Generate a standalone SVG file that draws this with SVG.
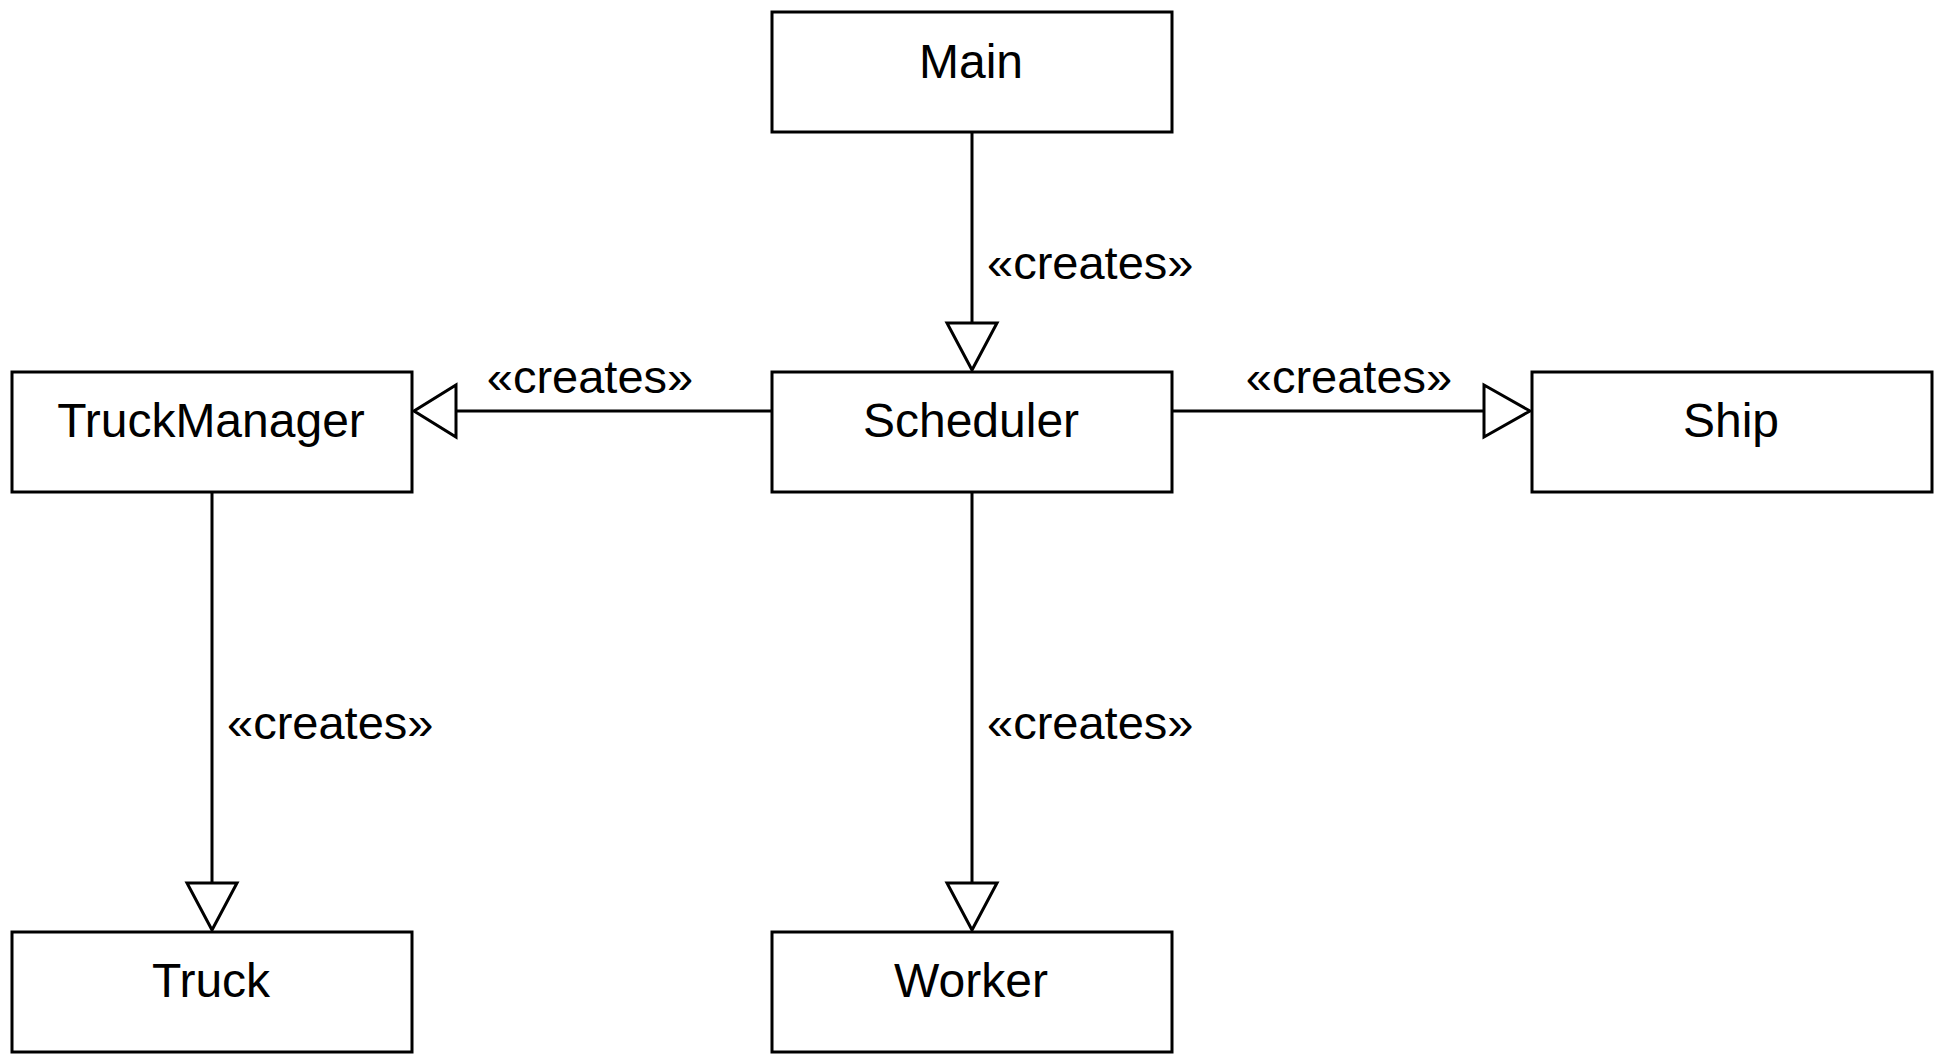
<svg xmlns="http://www.w3.org/2000/svg" width="1940" height="1060" viewBox="0 0 1940 1060">
<style>
.box{fill:#fff;stroke:#000;stroke-width:3}
.t{font-family:"Liberation Sans",Arial,sans-serif;font-size:48px;fill:#000;text-anchor:middle}
.lbl{font-family:"Liberation Sans",Arial,sans-serif;font-size:47px;fill:#000}
.ln{fill:none;stroke:#000;stroke-width:3}
.hd{fill:#fff;stroke:#000;stroke-width:3}
</style>
<rect width="1940" height="1060" fill="#fff"/>
<g id="connectors">
<g id="main-scheduler">
<line class="ln" x1="972" y1="132" x2="972" y2="323"/>
<polygon class="hd" points="947,323 997,323 972,370"/>
<text class="lbl" x="987" y="279">«creates»</text>
</g>
<g id="scheduler-truckmanager">
<line class="ln" x1="772" y1="411" x2="456" y2="411"/>
<polygon class="hd" points="456,385 456,437 414,411"/>
<text class="lbl" x="590" y="393" text-anchor="middle">«creates»</text>
</g>
<g id="scheduler-ship">
<line class="ln" x1="1172" y1="411" x2="1484" y2="411"/>
<polygon class="hd" points="1484,385 1484,437 1530,411"/>
<text class="lbl" x="1349" y="393" text-anchor="middle">«creates»</text>
</g>
<g id="truckmanager-truck">
<line class="ln" x1="212" y1="492" x2="212" y2="883"/>
<polygon class="hd" points="187,883 237,883 212,930"/>
<text class="lbl" x="227" y="739">«creates»</text>
</g>
<g id="scheduler-worker">
<line class="ln" x1="972" y1="492" x2="972" y2="883"/>
<polygon class="hd" points="947,883 997,883 972,930"/>
<text class="lbl" x="987" y="739">«creates»</text>
</g>
</g>
<g id="Main"><rect class="box" x="772" y="12" width="400" height="120"/><text class="t" x="971" y="78">Main</text></g>
<g id="Scheduler"><rect class="box" x="772" y="372" width="400" height="120"/><text class="t" x="971" y="437">Scheduler</text></g>
<g id="TruckManager"><rect class="box" x="12" y="372" width="400" height="120"/><text class="t" x="211" y="437">TruckManager</text></g>
<g id="Ship"><rect class="box" x="1532" y="372" width="400" height="120"/><text class="t" x="1731" y="437">Ship</text></g>
<g id="Truck"><rect class="box" x="12" y="932" width="400" height="120"/><text class="t" x="211" y="997">Truck</text></g>
<g id="Worker"><rect class="box" x="772" y="932" width="400" height="120"/><text class="t" x="971" y="997">Worker</text></g>
</svg>
